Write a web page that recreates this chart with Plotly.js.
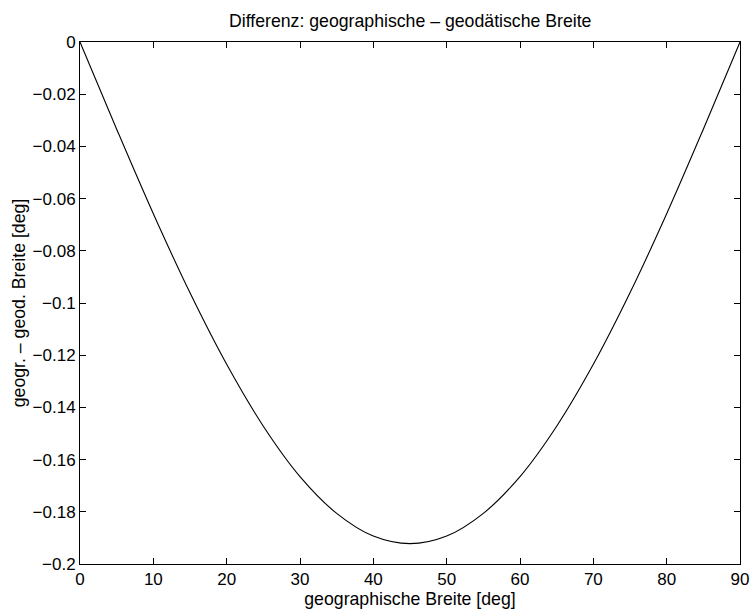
<!DOCTYPE html>
<html>
<head>
<meta charset="utf-8">
<script src="https://cdn.plot.ly/plotly-3.0.1.min.js"></script>
<style>html,body{margin:0;padding:0;background:#fff;}#chart{width:752px;height:613px;}</style>
</head>
<body>
<div id="chart"></div>
<script>
// geographic latitude [deg]
const latitude = [0, 5, 10, 15, 20, 25, 30, 35, 40, 45, 50, 55, 60, 65, 70, 75, 80, 85, 90];
// geographic - geodetic latitude [deg]
const difference = [0, -0.0334, -0.0658, -0.0961, -0.1235, -0.1472, -0.1665, -0.1806, -0.1893, -0.1922,
  -0.1893, -0.1806, -0.1665, -0.1472, -0.1235, -0.0961, -0.0658, -0.0334, 0];
const xTicks = [0, 10, 20, 30, 40, 50, 60, 70, 80, 90];
const yTicks = [0, -0.02, -0.04, -0.06, -0.08, -0.1, -0.12, -0.14, -0.16, -0.18, -0.2];
const yTickText = ["0", "\u22120.02", "\u22120.04", "\u22120.06", "\u22120.08", "\u22120.1", "\u22120.12", "\u22120.14", "\u22120.16", "\u22120.18", "\u22120.2"];

const family = "Liberation Sans, Arial, Helvetica, sans-serif";
const tickFont = {family: family, size: 17, color: "#000"};
const labelFont = {family: family, size: 17.7, color: "#000"};

const trace = {
  x: latitude, y: difference, type: "scatter", mode: "lines",
  line: {color: "#000", width: 1.1, shape: "spline", smoothing: 1},
  hoverinfo: "skip"
};

const axisCommon = {
  showgrid: false, zeroline: false, showline: true, linecolor: "#000", linewidth: 1,
  mirror: "ticks", ticks: "inside", ticklen: 6, tickwidth: 1, tickcolor: "#000",
  tickfont: tickFont
};

const layout = {
  width: 752, height: 613,
  margin: {l: 80, r: 12, t: 42, b: 49},
  paper_bgcolor: "#fff", plot_bgcolor: "#fff",
  font: tickFont,
  showlegend: false,
  title: {text: "Differenz: geographische \u2013 geodätische Breite", font: labelFont,
          x: 0.5455, xanchor: "center", y: 0.966, yanchor: "middle", yref: "container"},
  xaxis: Object.assign({}, axisCommon, {
    range: [0, 90], tickvals: xTicks, ticktext: xTicks.map(String),
    title: {text: "geographische Breite [deg]", font: labelFont, standoff: 2}
  }),
  yaxis: Object.assign({}, axisCommon, {
    range: [-0.2, 0], tickvals: yTicks, ticktext: yTickText,
    title: {text: "geogr. \u2013 geod. Breite [deg]", font: labelFont, standoff: 2}
  })
};

Plotly.newPlot("chart", [trace], layout, {displayModeBar: false, staticPlot: true});
</script>
</body>
</html>
